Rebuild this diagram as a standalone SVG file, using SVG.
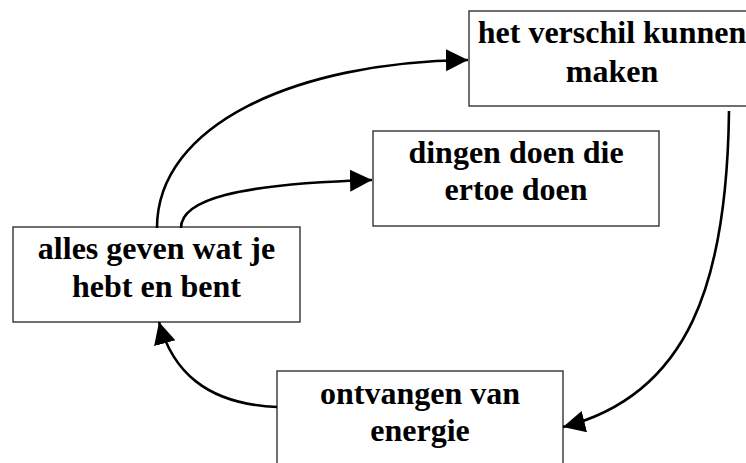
<svg xmlns="http://www.w3.org/2000/svg" width="746" height="463" viewBox="0 0 746 463">
  <style>
    .box { fill: #ffffff; stroke: #333333; stroke-width: 1.4; }
    .label { font-family: "Liberation Serif", "Times New Roman", serif; font-weight: bold; font-size: 32px; fill: #000000; text-anchor: middle; }
    .link { fill: none; stroke: #000000; stroke-width: 2.6; }
  </style>
  <defs>
    <marker id="arrow" markerUnits="userSpaceOnUse" markerWidth="24" markerHeight="24" refX="22" refY="11" orient="auto">
      <path d="M0,0 L22,11 L0,22 z" fill="#000000"/>
    </marker>
  </defs>

  <rect width="746" height="463" fill="#ffffff"/>

  <g id="node-verschil">
    <rect class="box" x="469" y="11" width="290" height="95"/>
    <text class="label" x="612" y="43">het verschil kunnen</text>
    <text class="label" x="612" y="82">maken</text>
  </g>

  <g id="node-dingen">
    <rect class="box" x="373" y="131" width="286" height="95"/>
    <text class="label" x="516" y="163">dingen doen die</text>
    <text class="label" x="516" y="200">ertoe doen</text>
  </g>

  <g id="node-alles">
    <rect class="box" x="13" y="227" width="287" height="95"/>
    <text class="label" x="156.5" y="259">alles geven wat je</text>
    <text class="label" x="156.5" y="297">hebt en bent</text>
  </g>

  <g id="node-ontvangen">
    <rect class="box" x="277" y="371" width="286" height="100"/>
    <text class="label" x="420" y="404">ontvangen van</text>
    <text class="label" x="420" y="441">energie</text>
  </g>

  <g id="connectors">
    <path class="link" d="M157,228 C157,125 295,62 468,60" marker-end="url(#arrow)"/>
    <path class="link" d="M181,228 C181,200 235,184 372,180" marker-end="url(#arrow)"/>
    <path class="link" d="M729,111 C727,280 690,395 563,427" marker-end="url(#arrow)"/>
    <path class="link" d="M277,407 C205,404 172,370 159,322" marker-end="url(#arrow)"/>
  </g>
</svg>
